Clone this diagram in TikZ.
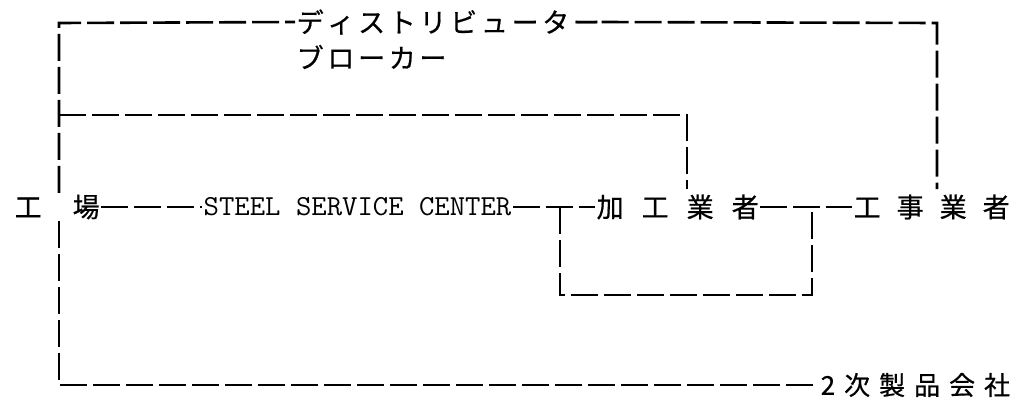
\documentclass[tikz,border=0pt]{standalone}
\usepackage{fontspec}
\newfontfamily\jp[FakeBold=0.6]{Noto Sans CJK JP}
\tikzset{
  dl/.style={line width=2.6pt, dash pattern=on 27pt off 6pt},
  lbl/.style={inner sep=1.5pt, anchor=west, font=\jp\fontsize{27}{27}\selectfont},
  toplbl/.style={inner sep=1.5pt, anchor=west, font=\jp\fontsize{27}{27}\selectfont},
}
\begin{document}
\begin{tikzpicture}[x=1pt,y=-1pt]
\useasboundingbox (0,0) rectangle (1015,399);
% coordinates of corners
\coordinate (tl) at (59,23);
\coordinate (ml) at (59,115);
\coordinate (bl) at (59,385);
\coordinate (tr) at (937,23);
\coordinate (trb) at (937,189);
\coordinate (mr) at (687,115);
\coordinate (mrb) at (687,189);
\coordinate (j1) at (560,207);
\coordinate (j2) at (812,207);
\coordinate (b1) at (560,295);
\coordinate (b2) at (812,295);
% labels
\node[toplbl] (dist) at (295,22) {デ\kern3.7ptィ\kern3.7ptス\kern3.7ptト\kern3.7ptリ\kern3.7ptビ\kern3.7ptュ\kern3.7ptー\kern3.7ptタ\kern3.7ptー};
\node[toplbl] (brk) at (295,57) {ブ\kern3.7ptロ\kern3.7ptー\kern3.7ptカ\kern3.7ptー};
\node[lbl] (kj) at (13,207) {工\kern31pt場};
\node[anchor=west, inner sep=1.5pt] (ssc) at (202,207) {\scalebox{1.03}[1]{\ttfamily\addfontfeature{FakeBold=1.2}\fontsize{29}{29}\selectfont STEEL SERVICE CENTER}};
\node[lbl] (kako) at (595,207) {加\kern18pt工\kern18pt業\kern18pt者};
\node[lbl] (koji) at (852,207) {工\kern16pt事\kern16pt業\kern16pt者};
\node[lbl, font=\jp\fontsize{26}{26}\selectfont] (niji) at (819,385) {2\kern9pt次\kern9pt製\kern9pt品\kern9pt会\kern9pt社};
% connectors
\draw[dl] (kj.north -| tl) -- (tl) -- (dist.west);
\draw[dl] (dist.east) -- (tr) -- (trb);
\draw[dl] (ml) -- (mr) -- (mrb);
\draw[dl] (kj.south -| bl) -- (bl) -- (niji.west);
\draw[dl] (kj.east) -- (ssc.west);
\draw[dl] (ssc.east) -- (kako.west);
\draw[dl] (kako.east) -- (koji.west);
\draw[dl] (j1) -- (b1) -- (b2) -- (j2);
\end{tikzpicture}
\end{document}
